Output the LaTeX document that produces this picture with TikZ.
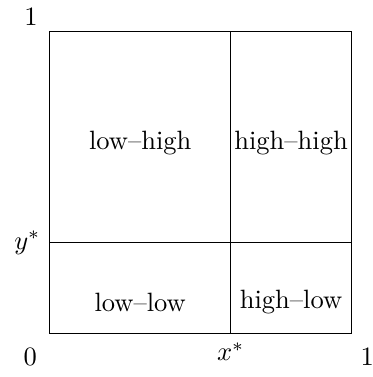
\documentclass[tikz,border=0pt]{standalone}
\usepackage{amsmath}
\usepackage{tikz}
\usetikzlibrary{positioning}

\begin{document}
\begin{tikzpicture}[
  every node/.style={align=center},
  grid/.style={line width=0.5pt, draw=black},
  region/.style={inner sep=0pt},
  axislbl/.style={inner sep=0pt}
]
  \useasboundingbox (-0.66,-0.58) rectangle (4.28,4.42);

  % unit square split at x* and y*
  \draw[grid] (0,0) rectangle (4,4);
  \coordinate (xs) at (2.4,0);
  \coordinate (ys) at (0,1.2);
  \draw[grid] (xs) -- (2.4,4);
  \draw[grid] (ys) -- (4,1.2);

  % axis labels
  \node[axislbl] (zero) at (-0.26,-0.31) {$0$};
  \node[axislbl] (xone) at (4.21,-0.31) {$1$};
  \node[axislbl] (yone) at (-0.25,4.20) {$1$};
  \node[below=0pt of xs] (xstar) {$x^*$};
  \node[left=0pt of ys] (ystar) {$y^*$};

  % regions
  \node[region] (lh) at (1.2,2.52) {low--high};
  \node[region] (hh) at (3.2,2.52) {high--high};
  \node[region] (ll) at (1.2,0.41) {low--low};
  \node[region] (hl) at (3.2,0.41) {high--low};
\end{tikzpicture}
\end{document}
